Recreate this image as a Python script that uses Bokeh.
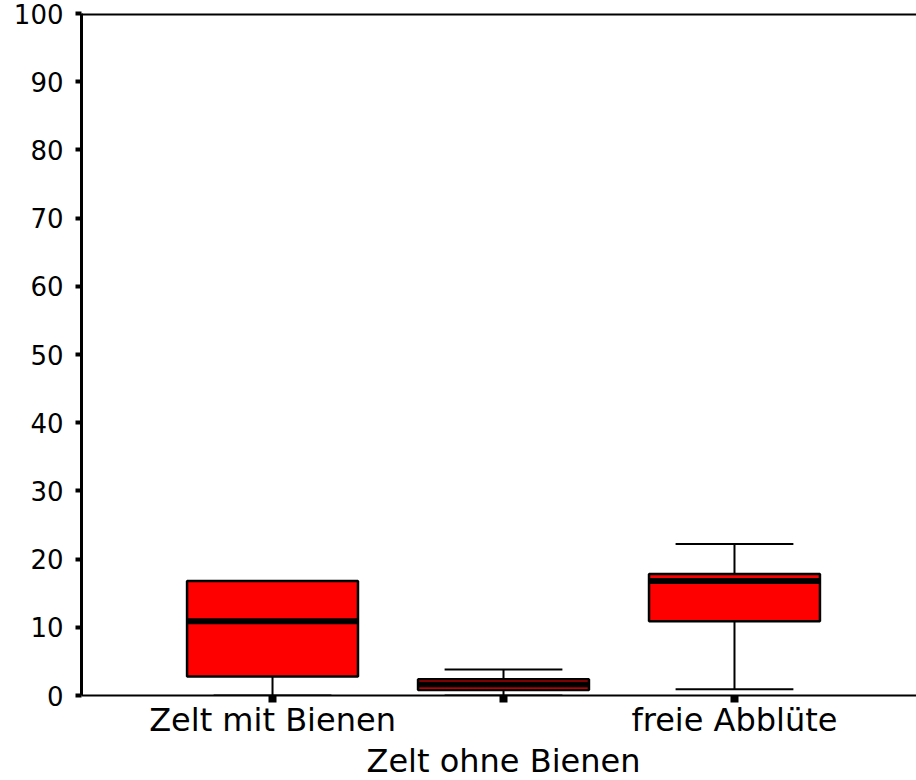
from bokeh.plotting import figure
from bokeh.models import Range1d, FixedTicker, Span, Label
from bokeh.embed import file_html
from bokeh.resources import INLINE

# ---- data ----
groups = ["Zelt mit Bienen", "Zelt ohne Bienen", "freie Abblüte"]
x_pos = [1, 2, 3]
q1 = [2.8, 0.8, 10.9]
median = [10.9, 1.6, 16.8]
q3 = [16.8, 2.4, 17.8]
lower = [0.0, 0.0, 0.9]
upper = [16.8, 3.8, 22.2]
y_ticks = [0, 10, 20, 30, 40, 50, 60, 70, 80, 90, 100]

box_w = 0.74
cap_w = 0.51
FONT = "DejaVu Sans"

p = figure(width=916, height=780, output_backend="svg", toolbar_location=None,
           x_range=Range1d(0.173, 3.788), y_range=Range1d(0, 100),
           min_border_left=81, min_border_right=0, min_border_top=13,
           min_border_bottom=85)
p.background_fill_color = "white"
p.border_fill_color = "white"
p.outline_line_color = None
p.xgrid.visible = False
p.ygrid.visible = False

# y axis
p.yaxis.ticker = FixedTicker(ticks=y_ticks)
p.yaxis.axis_line_width = 3
p.yaxis.axis_line_color = "black"
p.yaxis.major_tick_line_width = 4
p.yaxis.major_tick_out = 6
p.yaxis.major_tick_in = 0
p.yaxis.minor_tick_line_color = None
p.yaxis.major_label_text_font = FONT
p.yaxis.major_label_text_font_size = "26px"
p.yaxis.major_label_text_color = "black"
p.yaxis.major_label_standoff = 12

# x axis (outer categories)
p.xaxis.ticker = FixedTicker(ticks=x_pos)
p.xaxis.major_label_overrides = {x_pos[0]: groups[0], x_pos[1]: "", x_pos[2]: groups[2]}
p.xaxis.axis_line_width = 2
p.xaxis.axis_line_color = "black"
p.xaxis.major_tick_line_width = 8
p.xaxis.major_tick_out = 7
p.xaxis.major_tick_in = 0
p.xaxis.minor_tick_line_color = None
p.xaxis.major_label_text_font = FONT
p.xaxis.major_label_text_font_size = "32px"
p.xaxis.major_label_text_color = "black"
p.xaxis.major_label_standoff = -2

# staggered middle category label, placed in the bottom panel
p.add_layout(Label(x=x_pos[1], y=-9.6, text=groups[1], text_align="center",
                   text_baseline="alphabetic", text_font=FONT,
                   text_font_size="32px", text_color="black"), "below")

# top border
p.add_layout(Span(location=100, dimension="width", line_color="black", line_width=4))

# whiskers
p.segment(x0=x_pos, x1=x_pos, y0=q3, y1=upper, line_color="black", line_width=2)
p.segment(x0=x_pos, x1=x_pos, y0=q1, y1=lower, line_color="black", line_width=2)
p.segment(x0=[x - cap_w / 2 for x in x_pos], x1=[x + cap_w / 2 for x in x_pos],
          y0=upper, y1=upper, line_color="black", line_width=2)
p.segment(x0=[x - cap_w / 2 for x in x_pos], x1=[x + cap_w / 2 for x in x_pos],
          y0=lower, y1=lower, line_color="black", line_width=2)

# boxes
p.vbar(x=x_pos, width=box_w, bottom=q1, top=q3, fill_color="#ff0000",
       line_color="black", line_width=2.5)

# medians
p.segment(x0=[x - box_w / 2 for x in x_pos], x1=[x + box_w / 2 for x in x_pos],
          y0=median, y1=median, line_color="black", line_width=6)

open("out.html", "w").write(file_html(p, INLINE))
